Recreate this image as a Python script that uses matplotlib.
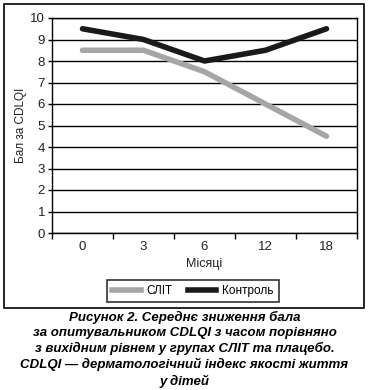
import matplotlib
matplotlib.use("Agg")
import matplotlib.pyplot as plt
from matplotlib.patches import Rectangle
from matplotlib.lines import Line2D

months = ["0", "3", "6", "12", "18"]
slit = [8.5, 8.5, 7.5, 6.0, 4.5]
control = [9.5, 9.0, 8.0, 8.5, 9.5]
yticks = list(range(0, 11))
caption = ("Рисунок 2. Середнє зниження бала\n"
           "за опитувальником CDLQI з часом порівняно\n"
           "з вихідним рівнем у групах СЛІТ та плацебо.\n"
           "CDLQI — дерматологічний індекс якості життя\n"
           "у дітей")

W, H = 369, 390
fig = plt.figure(figsize=(W/100, H/100), dpi=100)
plt.rcParams['font.family'] = ['Liberation Sans', 'DejaVu Sans']

def fx(px): return px / W
def fy(py): return 1 - py / H

# outer frame
fig.patches.append(Rectangle((fx(4), fy(308)), fx(364) - fx(4), fy(4) - fy(308),
                             transform=fig.transFigure, fill=False, ec='black', lw=1.2))

ax = fig.add_axes([fx(52), fy(233), fx(357) - fx(52), fy(18) - fy(233)])
x = list(range(len(months)))
ax.plot(x, slit, color='#a6a6a6', lw=4, solid_capstyle='round', zorder=3)
ax.plot(x, control, color='#1a1a1a', lw=4, solid_capstyle='round', zorder=4)
ax.set_xlim(-0.5, len(months) - 0.5)
ax.set_ylim(0, 10)
ax.set_yticks(yticks)
ax.set_yticklabels([str(v) for v in yticks], fontsize=9.5, color='#222222')
ax.set_xticks([i - 0.5 for i in range(len(months) + 1)])
ax.set_xticklabels([])
ax.set_xticks(x, minor=True)
ax.set_xticklabels(months, minor=True, fontsize=9.5, color='#222222')
ax.tick_params(axis='x', which='major', direction='out', length=4, width=1)
ax.tick_params(axis='x', which='minor', length=0, pad=6)
ax.tick_params(axis='y', direction='out', length=3, width=1, pad=2)
ax.yaxis.grid(True, color='black', lw=1)
ax.set_axisbelow(True)
for s in ax.spines.values():
    s.set_linewidth(1)
ax.set_xlabel("Місяці", fontsize=9, labelpad=3, color='#222222')
ax.set_ylabel("Бал за CDLQI", fontsize=8.5, labelpad=2, color='#222222')

handles = [Line2D([], [], color='#a6a6a6', lw=4), Line2D([], [], color='#1a1a1a', lw=4)]
leg = fig.legend(handles, ["СЛІТ", "Контроль"], loc='center',
                 bbox_to_anchor=(fx(193), fy(291)), ncol=2, fontsize=8.5,
                 frameon=True, fancybox=False, edgecolor='black', handlelength=2.4,
                 columnspacing=1.3, handletextpad=0.5, borderpad=0.45)
leg.get_frame().set_linewidth(1.2)

fig.text(0.5, fy(311), caption, ha='center', va='top', fontsize=9.5,
         fontweight='bold', fontstyle='italic', linespacing=1.3)

fig.savefig("out.png", dpi=100)
